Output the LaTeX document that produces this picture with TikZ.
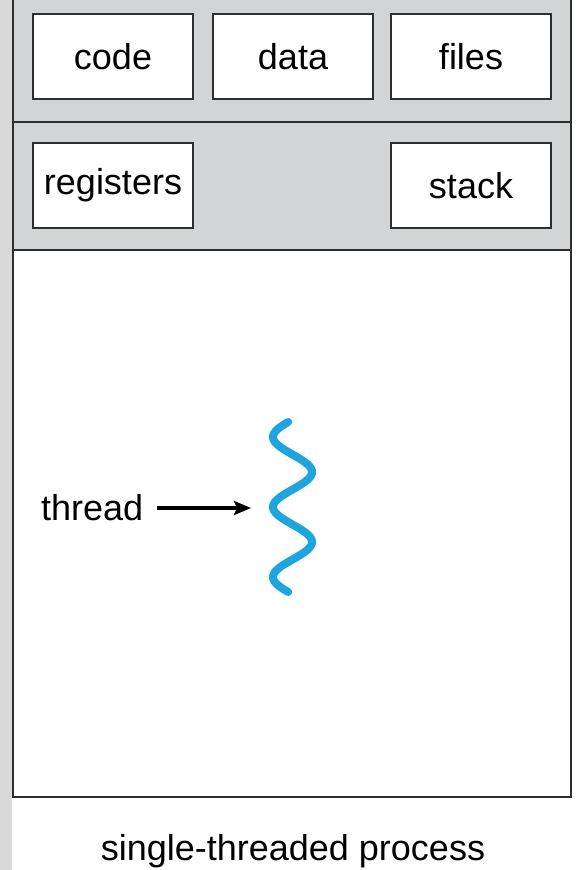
\documentclass[tikz,border=0pt]{standalone}
\usepackage{fontspec}
\setmainfont{Liberation Sans}
\usetikzlibrary{arrows.meta}
\definecolor{panelgray}{HTML}{D3D4D6}
\definecolor{stripgray}{HTML}{D9D9D9}
\definecolor{edge}{HTML}{2E2E2E}
\definecolor{threadblue}{HTML}{1FA5DE}
\tikzset{
  membox/.style={draw=edge, line width=2pt, fill=white, minimum width=160pt, minimum height=85pt, inner sep=0pt, font=\fontsize{36}{42}\selectfont},
  lbl/.style={inner sep=0pt, font=\fontsize{36}{42}\selectfont},
  frame/.style={draw=edge, line width=2.5pt},
  pointer/.style={draw=black, line width=3.2pt, -{Stealth[length=17pt,width=14pt,inset=3pt]}},
  wave/.style={draw=threadblue, line width=8pt, line cap=round}
}
\begin{document}
\begin{tikzpicture}[x=1pt,y=-1pt]
\useasboundingbox (0,0) rectangle (582,870);
\fill[white] (0,0) rectangle (582,870);
% left strip
\fill[stripgray] (0,0) rectangle (12,870);
% gray panel
\fill[panelgray] (13,-5) rectangle (571,250);
% outer frame and dividers
\draw[frame] (13,-5) -- (13,797) -- (571,797) -- (571,-5);
\draw[frame] (13,122) -- (571,122);
\draw[frame] (13,250) -- (571,250);
% boxes
\node[membox] (code) at (113,56.5) {code};
\node[membox] (data) at (293,56.5) {data};
\node[membox] (files) at (471,56.5) {files};
\node[membox] (regs) at (113,185.5) {registers};
\node[membox] (stack) at (471,185.5) {stack};
% thread
\draw[wave] plot[domain=422:592, samples=120, smooth] ({292.5-19.5*sin((\x-419.5)/70*360)}, \x);
\node[lbl, anchor=base west] (thread) at (41,520) {thread};
\coordinate (tip) at (251,508);
\draw[pointer] (157,508) coordinate (tail) (tail) -- (tip);
% caption
\node[lbl, anchor=base] (caption) at (293,860) {single-threaded process};
\end{tikzpicture}
\end{document}
